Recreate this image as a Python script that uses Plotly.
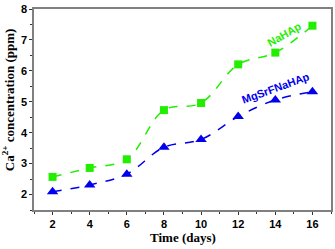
import plotly.graph_objects as go

days = [2, 4, 6, 8, 10, 12, 14, 16]
nahap = [2.57, 2.86, 3.14, 4.73, 4.96, 6.21, 6.59, 7.46]
mgsrf = [2.09, 2.31, 2.66, 3.53, 3.78, 4.52, 5.06, 5.32]
x_ticks = [2, 4, 6, 8, 10, 12, 14, 16]
y_ticks = [2, 3, 4, 5, 6, 7, 8]
y_range = [1.5, 8]

fig = go.Figure()
fig.add_trace(go.Scatter(x=days, y=nahap, mode="lines+markers", name="NaHAp",
                         line=dict(color="#22ee00", width=1.5, dash="dash", shape="spline"),
                         marker=dict(symbol="square", size=8, color="#22ee00")))
fig.add_trace(go.Scatter(x=days, y=mgsrf, mode="lines+markers", name="MgSrFNaHAp",
                         line=dict(color="#0000ee", width=1.5, dash="dash", shape="spline"),
                         marker=dict(symbol="triangle-up", size=10, color="#0000ee")))

fig.add_annotation(x=14.52, y=7.18, text="<b>NaHAp</b>", showarrow=False, textangle=-30,
                   font=dict(family="Arial", size=11, color="#22ee00"))
fig.add_annotation(x=14.0, y=5.45, text="<b>MgSrFNaHAp</b>", showarrow=False, textangle=-20,
                   font=dict(family="Arial", size=11, color="#0000ee"))

title_font = dict(family="Times New Roman, Liberation Serif", size=13, color="black")
fig.add_annotation(xref="paper", yref="paper", x=0.5, y=-0.135, yanchor="middle", xanchor="center",
                   text="<b>Time (days)</b>", showarrow=False, font=title_font)
fig.add_annotation(xref="paper", yref="paper", x=-0.085, y=0.55, xanchor="center", yanchor="middle",
                   text="<b>Ca<sup>2+</sup> concentration (ppm)</b>", textangle=-90, showarrow=False, font=title_font)

axis_common = dict(showline=True, linecolor="#808080", linewidth=1.5, mirror=True, automargin=False,
                   ticks="outside", ticklen=3, tickcolor="#333333", showgrid=False, zeroline=False,
                   tickfont=dict(family="Arial", size=11, color="black"))
fig.update_xaxes(range=[1, 17], tickvals=x_ticks,
                 ticktext=["<b>%d</b>" % d for d in x_ticks],
                 minor=dict(ticks="outside", ticklen=2, dtick=1, tickcolor="#333333"),
                 **axis_common)
fig.update_yaxes(range=y_range, tickvals=y_ticks,
                 ticktext=["<b>%d</b>" % v for v in y_ticks],
                 minor=dict(ticks="outside", ticklen=2, dtick=0.5, tickcolor="#333333"),
                 **axis_common)
fig.update_layout(width=335, height=249, margin=dict(l=34, r=4, t=9, b=39),
                  paper_bgcolor="white", plot_bgcolor="white", showlegend=False)
fig.write_html("out.html", config={"displayModeBar": False},
               post_script="document.body.style.margin='0';document.body.style.overflow='hidden';")
